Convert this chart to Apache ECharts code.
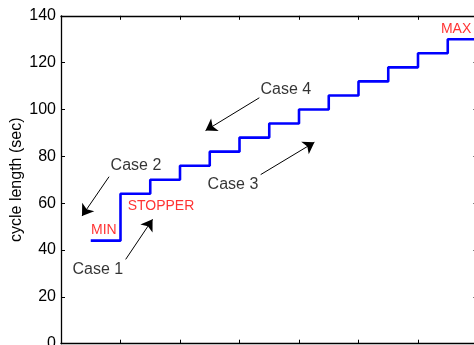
<!DOCTYPE html>
<html>
<head>
<meta charset="utf-8">
<script src="https://cdn.jsdelivr.net/npm/echarts@6/dist/echarts.min.js"></script>
<style>html,body{margin:0;padding:0;background:#fff}#c{width:474px;height:345px}</style>
</head>
<body>
<div id="c"></div>
<script>
// Step levels of the cycle length (x in tick units, y in sec)
var stepX = [0.5, 1, 1.5, 2, 2.5, 3, 3.5, 4, 4.5, 5, 5.5, 6, 6.5, 7];
var stepY = [44, 64, 70, 76, 82, 88, 94, 100, 106, 112, 118, 124, 130, 130];
var yTicks = [0, 20, 40, 60, 80, 100, 120, 140];

// Red labels
var redText = ['MIN', 'STOPPER', 'MAX'];
var redX = [0.72, 1.68, 6.64];
var redY = [48.5, 58.7, 134.2];

// Black case labels
var caseText = ['Case 1', 'Case 2', 'Case 3', 'Case 4'];
var caseX = [0.62, 1.26, 2.89, 3.78];
var caseY = [31.8, 75.9, 68.1, 108.3];

// Arrows: start -> tip
var arrowFromX = [1.087, 0.807, 3.356, 3.333];
var arrowFromY = [36.0, 71.3, 72.2, 105.0];
var arrowToX = [1.539, 0.353, 4.259, 2.429];
var arrowToY = [53.1, 54.5, 86.0, 91.0];

var FONT = '"Liberation Sans", Arial, Helvetica, sans-serif';

var stepData = stepX.map(function (x, i) { return [x, stepY[i]]; });
var redData = redX.map(function (x, i) { return { value: [x, redY[i]], name: redText[i] }; });
var caseData = caseX.map(function (x, i) { return { value: [x, caseY[i]], name: caseText[i] }; });
var arrows = arrowFromX.map(function (x, i) {
  return [{ coord: [x, arrowFromY[i]] }, { coord: [arrowToX[i], arrowToY[i]] }];
});

function axisLine() { return { show: true, onZero: false, lineStyle: { color: '#000', width: 1.3 } }; }
function axisTick() { return { show: true, inside: true, length: 4, lineStyle: { color: '#000', width: 1 } }; }

var chart = echarts.init(document.getElementById('c'));
chart.setOption({
  animation: false,
  grid: { left: 61, top: 15.8, width: 416.5, height: 327.9, containLabel: false, outerBoundsMode: 'none' },
  xAxis: [
    { type: 'value', min: 0, max: 7, interval: 1, position: 'bottom',
      axisLine: axisLine(), axisTick: axisTick(), axisLabel: { show: false }, splitLine: { show: false } },
    { type: 'value', min: 0, max: 7, interval: 1, position: 'top',
      axisLine: axisLine(), axisTick: axisTick(), axisLabel: { show: false }, splitLine: { show: false } }
  ],
  yAxis: [
    { type: 'value', min: yTicks[0], max: yTicks[yTicks.length - 1], interval: 20, position: 'left',
      name: 'cycle length (sec)', nameLocation: 'middle', nameGap: 36, nameMoveOverlap: false,
      nameTextStyle: { fontFamily: FONT, fontSize: 16, color: '#000' },
      axisLine: axisLine(), axisTick: axisTick(),
      axisLabel: { fontFamily: FONT, fontSize: 16, color: '#000', margin: 5 },
      splitLine: { show: false } },
    { type: 'value', min: 0, max: 140, interval: 20, position: 'right',
      axisLine: axisLine(), axisTick: axisTick(), axisLabel: { show: false }, splitLine: { show: false } }
  ],
  series: [
    { type: 'line', step: 'end', data: stepData, showSymbol: false, silent: true,
      lineStyle: { color: '#0000ff', width: 2.6 } },
    { type: 'scatter', data: caseData, symbolSize: 0, silent: true,
      label: { show: true, position: 'inside', formatter: '{b}', fontFamily: FONT, fontSize: 16, color: '#000' },
      markLine: { silent: true, symbol: ['none', 'arrow'], symbolSize: 11, animation: false,
        lineStyle: { color: '#000', width: 1, type: 'solid' }, label: { show: false },
        emphasis: { disabled: true }, data: arrows } },
    { type: 'scatter', data: redData, symbolSize: 0, silent: true,
      label: { show: true, position: 'inside', formatter: '{b}', fontFamily: FONT, fontSize: 14, color: '#ff0000' } }
  ]
});
</script>
</body>
</html>
